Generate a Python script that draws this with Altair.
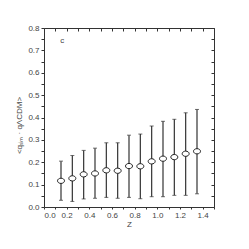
import altair as alt
import pandas as pd

z = [0.15, 0.25, 0.35, 0.45, 0.55, 0.65, 0.75, 0.85, 0.95, 1.05, 1.15, 1.25, 1.35]
mean = [0.117, 0.128, 0.146, 0.150, 0.164, 0.162, 0.183, 0.182, 0.204, 0.216, 0.223, 0.238, 0.249]
upper = [0.205, 0.230, 0.253, 0.263, 0.287, 0.287, 0.321, 0.326, 0.362, 0.383, 0.392, 0.421, 0.436]
lower = [0.030, 0.025, 0.036, 0.039, 0.043, 0.039, 0.043, 0.037, 0.046, 0.046, 0.052, 0.052, 0.059]

x_ticks = [0.0, 0.2, 0.4, 0.6, 0.8, 1.0, 1.2, 1.4]
x_minor = [round(0.1 * i, 1) for i in range(16)]
y_ticks = [0.0, 0.1, 0.2, 0.3, 0.4, 0.5, 0.6, 0.7, 0.8]
y_minor = [round(0.05 * i, 2) for i in range(17)]

panel_label = "c"
label_x = 0.16
label_y = 0.74

df = pd.DataFrame({"z": z, "mean": mean, "hi": upper, "lo": lower})
lab = pd.DataFrame({"x": [label_x], "y": [label_y], "t": [panel_label]})

FONT = "Liberation Sans"
GRAY = "#444444"
BAR = "#333333"

xs = alt.Scale(domain=[0, 1.5], nice=False)
ys = alt.Scale(domain=[0, 0.8], nice=False)

x_axis = alt.Axis(values=x_minor, labelExpr="(round(datum.value*10) % 2 == 0) ? format(datum.value, '.1f') : ''",
                  title="Z", tickSize=2, labelPadding=2, titlePadding=1, grid=False, domain=False)
y_axis = alt.Axis(values=y_minor, labelExpr="(round(datum.value*100) % 10 == 0) ? format(datum.value, '.1f') : ''",
                  title="<qₛᵢₘ · qΛCDM>", tickSize=3, labelPadding=2, titlePadding=4, grid=False,
                  domain=False, titleY=97)

base = alt.Chart(df)

rules = base.mark_rule(color=BAR, strokeWidth=1.2).encode(
    x=alt.X("z:Q", scale=xs, axis=x_axis),
    y=alt.Y("lo:Q", scale=ys, axis=y_axis),
    y2="hi:Q",
)
caps_hi = base.mark_tick(color=BAR, size=4, thickness=1, orient="horizontal").encode(
    x=alt.X("z:Q", scale=xs, axis=None), y=alt.Y("hi:Q", scale=ys, axis=None))
caps_lo = base.mark_tick(color=BAR, size=4, thickness=1, orient="horizontal").encode(
    x=alt.X("z:Q", scale=xs, axis=None), y=alt.Y("lo:Q", scale=ys, axis=None))

pts = base.mark_point(
    shape="M -1 0 A 1 0.75 0 1 0 1 0 A 1 0.75 0 1 0 -1 0 Z",
    size=49, filled=False, fill="white", fillOpacity=1, stroke="#222222", strokeWidth=1, opacity=1,
).encode(x=alt.X("z:Q", scale=xs, axis=None), y=alt.Y("mean:Q", scale=ys, axis=None))

# mirrored top/right axes with inward ticks
top = base.mark_point(opacity=0).encode(
    x=alt.X("z:Q", scale=xs, axis=alt.Axis(orient="top", values=x_minor, labels=False, title=None,
                                           domain=False, tickSize=3, offset=-3, grid=False)),
    y=alt.Y("mean:Q", scale=ys, axis=None))
right = base.mark_point(opacity=0).encode(
    x=alt.X("z:Q", scale=xs, axis=None),
    y=alt.Y("mean:Q", scale=ys, axis=alt.Axis(orient="right", values=y_minor, labels=False, title=None,
                                              domain=False, tickSize=3, offset=-3, grid=False)))

txt = alt.Chart(lab).mark_text(font=FONT, fontSize=8, color=GRAY, align="center", baseline="middle").encode(
    x=alt.X("x:Q", scale=xs, axis=None), y=alt.Y("y:Q", scale=ys, axis=None), text="t:N")

chart = alt.layer(rules, caps_hi, caps_lo, pts, top, right, txt).resolve_axis(
    x="independent", y="independent"
).properties(
    width=170, height=179,
    autosize=alt.AutoSizeParams(type="none"),
    padding={"left": 36, "top": 20, "right": 20, "bottom": 30},
    background="white",
).configure_view(stroke="#333333", strokeWidth=1).configure_axis(
    labelFont=FONT, titleFont=FONT, labelFontSize=8, titleFontSize=8,
    labelColor=GRAY, titleColor=GRAY, tickColor="#333333", domainColor="#333333",
    titleFontWeight="normal",
)

chart.save("out.html", embed_options={"renderer": "svg", "actions": False})
